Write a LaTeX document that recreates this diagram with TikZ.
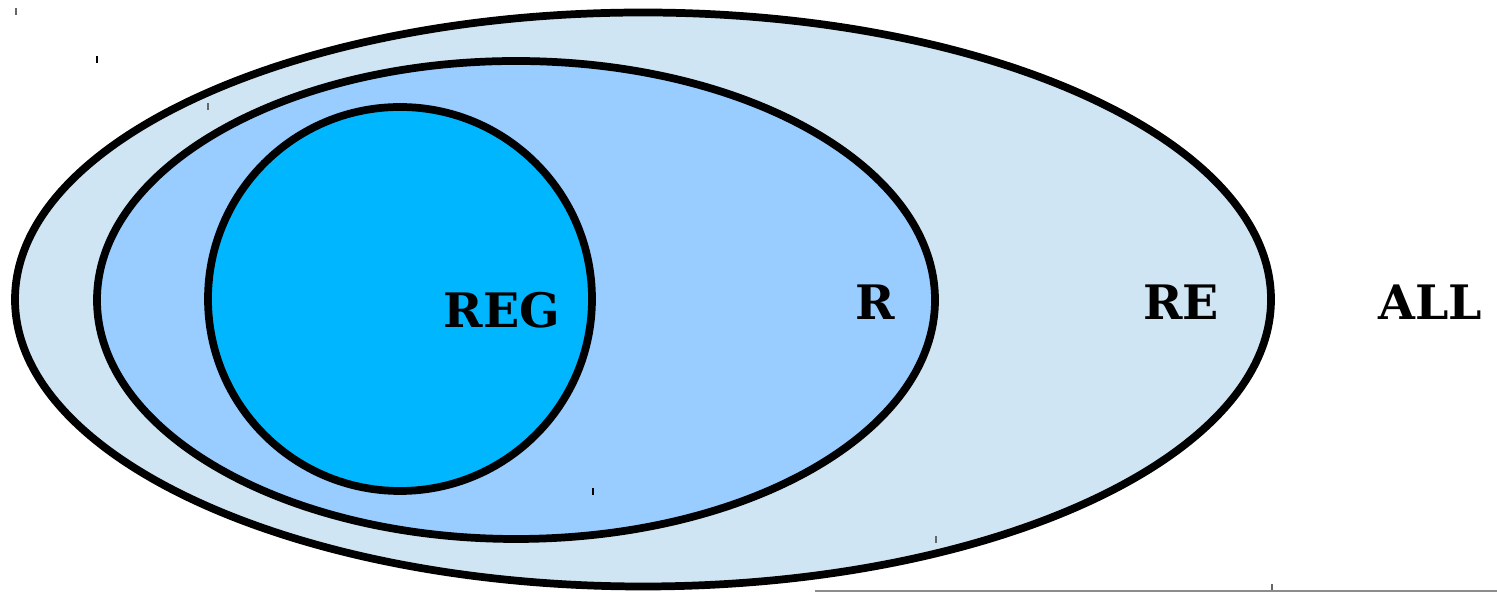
\documentclass[tikz,border=0pt]{standalone}
\usepackage{fontspec}
\setmainfont{DejaVu Serif}
\definecolor{reC}{HTML}{CFE5F3}
\definecolor{rC}{HTML}{99CCFF}
\definecolor{regC}{HTML}{00B7FF}
\begin{document}
\begin{tikzpicture}[x=0.01cm,y=-0.01cm,
  setline/.style={line width=2.2pt,draw=black},
  lbl/.style={font=\fontsize{13.5pt}{16pt}\selectfont\bfseries,inner sep=0pt},
  tick/.style={line width=0.4pt,draw=black!60}]
\useasboundingbox (0,0) rectangle (1497,592);
\filldraw[setline,fill=reC] (643,299.5) ellipse [x radius=628,y radius=287];
\filldraw[setline,fill=rC] (516,300) ellipse [x radius=419,y radius=239];
\filldraw[setline,fill=regC] (400,299) ellipse [x radius=192,y radius=192];
\node[lbl] (reg) at (502,310) {REG};
\node[lbl] (r) at (875,302) {R};
\node[lbl] (re) at (1181,302) {RE};
\node[lbl] (all) at (1430,302) {ALL};
\draw[tick] (16,8) -- (16,15);
\draw[tick,draw=black] (97,56) -- (97,63);
\draw[tick] (208,103) -- (208,110);
\draw[tick,draw=black] (593,488) -- (593,495);
\draw[tick] (936,536) -- (936,543);
\draw[tick] (1272,584) -- (1272,591);
\draw[line width=0.6pt,draw=black!45] (815,591.3) -- (1497,591.3);
\end{tikzpicture}
\end{document}
